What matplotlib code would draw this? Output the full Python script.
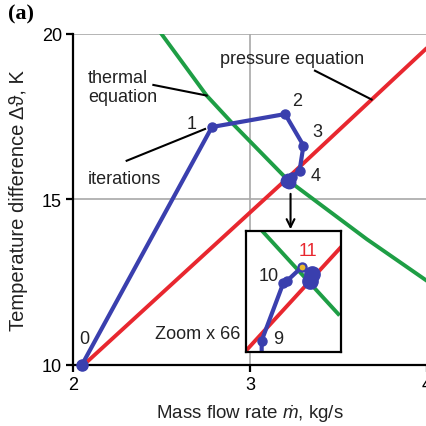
import matplotlib
matplotlib.use("Agg")
import matplotlib.pyplot as plt

plt.rcParams['font.family'] = ['Liberation Sans', 'DejaVu Sans']
plt.rcParams['mathtext.fontset'] = 'custom'
plt.rcParams['mathtext.rm'] = 'Liberation Sans'
plt.rcParams['mathtext.it'] = 'Liberation Sans:italic'

# ---- data ----
pressure_x = [2.06, 3.207, 4.0]
pressure_y = [10.0, 15.62, 19.58]

thermal_x = [2.50, 2.755, 2.904, 3.217, 3.66, 4.0]
thermal_y = [20.0, 18.14, 17.28, 15.57, 13.8, 12.54]

iter_x = [2.05, 2.785, 3.198, 3.302, 3.28, 3.235, 3.207, 3.215, 3.222]
iter_y = [10.0, 17.19, 17.58, 16.63, 15.87, 15.67, 15.57, 15.60, 15.54]
iter_labels = ['0', '1', '2', '3', '4']
iter_label_x = [2.062, 2.672, 3.266, 3.379, 3.373]
iter_label_y = [10.79, 17.31, 17.98, 17.04, 15.71]

# zoomed region (x66)
zoom_xlim = [3.2120, 3.2201]
zoom_ylim = [15.540, 15.595]
zp_x = [3.2120, 3.2201]
zp_y = [15.5407, 15.5878]
zt_x = [3.21348, 3.21987]
zt_y = [15.5946, 15.5574]
zi_x = [3.21334, 3.21334, 3.21518, 3.21547, 3.21675, 3.21760, 3.21746]
zi_y = [15.530, 15.5453, 15.5714, 15.5723, 15.5787, 15.5756, 15.5726]
zi_labels = ['9', '10', '11']
zi_label_x = [3.21476, 3.21390, 3.21731]
zi_label_y = [15.5461, 15.5749, 15.5862]

xticks = [2, 3, 4]
yticks = [10, 15, 20]

BLUE = '#3a3fae'
RED = '#e8272f'
GREEN = '#1e9e45'
GRID = '#a8a8a8'
TXT = '#222222'
FS = 13

fig = plt.figure(figsize=(4.27, 4.27), dpi=100)
ax = fig.add_axes([0.171, 0.1429, 0.829, 0.7752])
ax.set_xlim(2, 4)
ax.set_ylim(10, 20)
ax.set_xticks(xticks)
ax.set_yticks(yticks)
ax.set_xticklabels([str(t) for t in xticks], fontsize=13)
ax.set_yticklabels([str(t) for t in yticks], fontsize=13)
for s in ['top', 'right']:
    ax.spines[s].set_visible(False)
for s in ['left', 'bottom']:
    ax.spines[s].set_linewidth(1.6)
    ax.spines[s].set_zorder(5)
ax.tick_params(direction='out', length=5, width=1.6, pad=3)
ax.grid(True, color=GRID, linewidth=1.2)
ax.set_axisbelow(True)

ax.plot(pressure_x, pressure_y, color=RED, lw=2.8, solid_capstyle='butt', zorder=2)
ax.plot(thermal_x, thermal_y, color=GREEN, lw=2.8, zorder=2)
ax.plot(iter_x, iter_y, color=BLUE, lw=3.0, marker='o', ms=6.5, zorder=6, clip_on=False)
ax.plot(iter_x[:1], iter_y[:1], 'o', color=BLUE, ms=8, zorder=6, clip_on=False)
ax.plot(iter_x[-3:], iter_y[-3:], 'o', color=BLUE, ms=9, zorder=6)
for t, x, y in zip(iter_labels, iter_label_x, iter_label_y):
    ax.text(x, y, t, fontsize=FS, ha='center', va='center', color=TXT)

ax.text(3.237, 19.27, 'pressure equation', fontsize=FS, ha='center', va='center', color=TXT)
ax.plot([3.367, 3.687], [18.89, 18.02], color='black', lw=1.5, zorder=3)
ax.text(2.085, 18.41, 'thermal\nequation', fontsize=FS, ha='left', va='center',
        linespacing=1.15, color=TXT)
ax.plot([2.454, 2.755], [18.46, 18.14], color='black', lw=1.5, zorder=3)
ax.text(2.085, 15.62, 'iterations', fontsize=FS, ha='left', va='center', color=TXT)
ax.plot([2.303, 2.746], [16.17, 17.13], color='black', lw=1.5, zorder=3)
ax.text(2.944, 10.94, 'Zoom x 66', fontsize=FS, ha='right', va='center', color=TXT)
ax.annotate('', xy=(3.229, 14.10), xytext=(3.229, 15.17),
            arrowprops=dict(arrowstyle='->', color='black', lw=1.5,
                            mutation_scale=14, shrinkA=0, shrinkB=0))

ax.set_xlabel(r'Mass flow rate $\dot{m}$, kg/s', fontsize=13.5, labelpad=7, color=TXT)
ax.set_ylabel('Temperature difference Δϑ, K', fontsize=14.5, labelpad=10, color=TXT)
fig.text(0.018, 0.965, '(a)', fontsize=16, fontweight='bold', family='Liberation Serif',
         ha='left', va='center')

# inset
ins = fig.add_axes([0.576, 0.1726, 0.2225, 0.2834])
ins.set_xlim(*zoom_xlim)
ins.set_ylim(*zoom_ylim)
ins.set_xticks([])
ins.set_yticks([])
for s in ins.spines.values():
    s.set_linewidth(1.6)
    s.set_zorder(10)
ins.plot(zp_x, zp_y, color=RED, lw=2.8)
ins.plot(zt_x, zt_y, color=GREEN, lw=2.8)
ins.plot(zi_x, zi_y, color=BLUE, lw=3.0, marker='o', ms=6.5)
ins.plot(zi_x[-2:], zi_y[-2:], 'o', color=BLUE, ms=11)
ins.plot([zi_x[4]], [zi_y[4]], 'o', color='#e8b830', ms=5, markeredgecolor=BLUE, mew=0.8, zorder=8)
for t, x, y in zip(zi_labels, zi_label_x, zi_label_y):
    ins.text(x, y, t, fontsize=FS, ha='center', va='center',
             color=RED if t == '11' else TXT)

fig.savefig('out.png', dpi=100)
